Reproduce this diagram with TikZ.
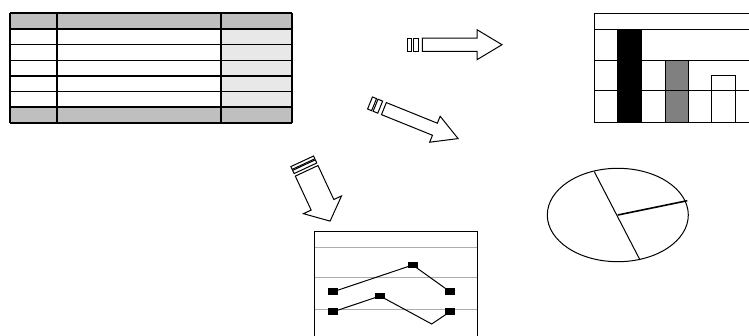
\documentclass[tikz,border=0pt]{standalone}
\begin{document}
% striped block arrow: #1 tail centre, #2 angle, #3 length, #4 body half height,
% #5 head half height, #6 head length, #7 stripe scale
\newcommand\stripedarrow[7]{%
  \begin{scope}[shift={#1},rotate=#2,line width=1pt,line join=miter]
    \draw[fill=white] (0,-#4) rectangle (4.4*#7,#4);
    \draw[fill=white] (6*#7,-#4) rectangle (11*#7,#4);
    \draw[fill=white] (15*#7,-#4) -- (#3-#6,-#4) -- (#3-#6,-#5) -- (#3,0)
      -- (#3-#6,#5) -- (#3-#6,#4) -- (15*#7,#4) -- cycle;
  \end{scope}}
\begin{tikzpicture}[x=1pt,y=-1pt,
  gridline/.style={line width=1.5pt},
  frameline/.style={line width=1pt},
  guide/.style={draw=black!32,line width=1pt},
  marker/.style={fill=black,minimum width=10pt,minimum height=6.5pt,inner sep=0pt,outer sep=0pt}]
\useasboundingbox (0,0) rectangle (749,335);

% ---- table ----
\fill[black!25] (10,13) rectangle (292,29);
\fill[black!25] (10,107) rectangle (292,123);
\fill[black!9] (221,29) rectangle (292,107);
\foreach \y in {13,29,44.7,60.5,76,91.7,107,123}
  \draw[gridline] (10,\y) -- (292,\y);
\foreach \x in {10,57,221,292}
  \draw[gridline] (\x,13) -- (\x,123);

% ---- arrows ----
\stripedarrow{(407.3,44.7)}{0}{94.7}{6.7}{15}{25}{1}
\stripedarrow{(370,103)}{-22}{95}{6.5}{14}{25}{1}
\stripedarrow{(302.2,161.3)}{-65}{66}{12.5}{21}{18}{0.7}

% ---- bar chart ----
\fill[black] (617.3,29.3) rectangle (641.7,122);
\draw[frameline,fill=black!50] (665,60.7) rectangle (688.3,122);
\draw[frameline,fill=white] (711,75.7) rectangle (735,122);
\foreach \y in {13.3,29.3,60.7,90.7,122}
  \draw[frameline] (594.3,\y) -- (752,\y);
\draw[frameline] (594.3,13.3) -- (594.3,122);

% ---- pie chart ----
\coordinate (pc) at (617.8,215);
\coordinate (pa) at (594.3,171.7);
\coordinate (pb) at (640,260);
\coordinate (pr) at (687.3,200.7);
\draw[frameline] (pc) ellipse [x radius=70.5pt, y radius=46.7pt];
\draw[frameline] (pa) -- (pb);
\draw[line width=1.6pt] (pc) -- (pr);

% ---- line chart ----
\foreach \y in {247,277.7,309.3}
  \draw[guide] (314,\y) -- (477.3,\y);
\draw[frameline] (314,340) -- (314,231) -- (477.3,231) -- (477.3,340);
\node[marker] (a1) at (333.3,291.7) {};
\node[marker] (a2) at (412.7,265) {};
\node[marker] (a3) at (450,291.7) {};
\node[marker] (b1) at (333.3,311.7) {};
\node[marker] (b2) at (380,296) {};
\coordinate (b3) at (431.7,324);
\node[marker] (b4) at (450,311.7) {};
\draw[frameline] (a1.center) -- (a2.center) -- (a3.center);
\draw[frameline] (b1.center) -- (b2.center) -- (b3) -- (b4.center);
\end{tikzpicture}
\end{document}
